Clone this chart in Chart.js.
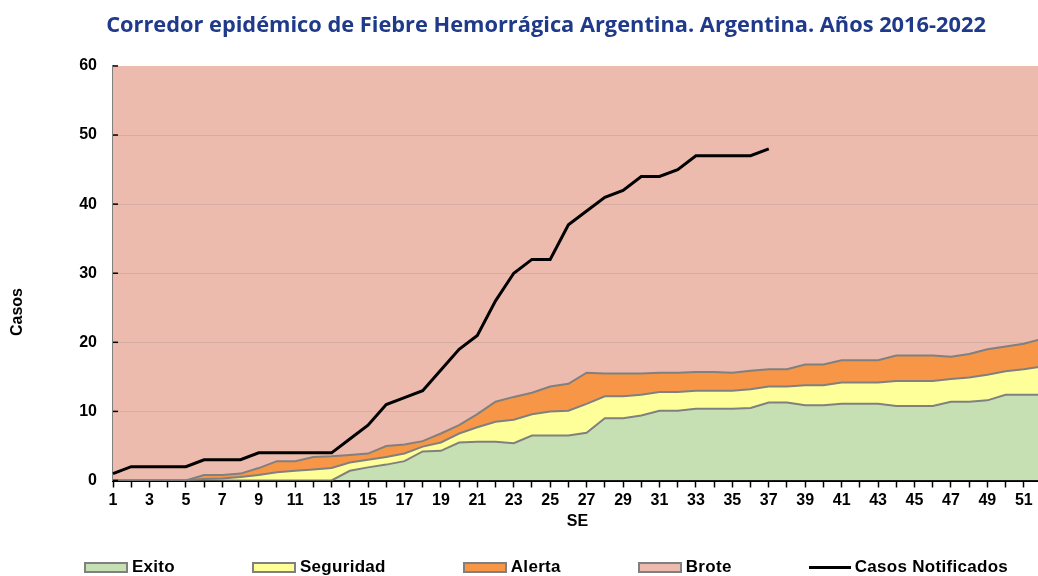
<!DOCTYPE html>
<html>
<head>
<meta charset="utf-8">
<script src="https://cdn.jsdelivr.net/npm/chart.js@4"></script>
<style>
    body { margin: 0; overflow: hidden; background: #fff; }
    #wrap { position: relative; width: 1092px; height: 576px; }
    #legend {
        position: absolute; left: 0; top: 558px; width: 1092px;
        display: flex; justify-content: center; gap: 77px;
        font: bold 17px "Liberation Sans", Arial, sans-serif; letter-spacing: 0.3px;
        line-height: 18px; color: #000;
    }
    #legend .item { display: flex; align-items: center; white-space: nowrap; }
    #legend .swatch { width: 40px; height: 7px; border: 2px solid #808080; margin-right: 4px; }
    #legend .swatch.line { width: 42px; height: 3px; border: 0; background: #000; margin-right: 4px; }
</style>
</head>
<body>
<div id="wrap">
    <canvas id="chart" width="1092" height="576"></canvas>
    <div id="legend"></div>
</div>
<script>
const weeks = ['1','2','3','4','5','6','7','8','9','10','11','12','13','14','15','16','17','18','19','20',
    '21','22','23','24','25','26','27','28','29','30','31','32','33','34','35','36','37','38','39','40',
    '41','42','43','44','45','46','47','48','49','50','51','52'];

// limites del corredor (valores acumulados por SE)
const exito = [0,0,0,0,0,0,0,0,0,0,0,0,0,1.4,1.9,2.3,2.8,4.2,4.3,5.5,
    5.6,5.6,5.4,6.5,6.5,6.5,6.9,9.0,9.0,9.4,10.1,10.1,10.4,10.4,10.4,10.5,11.3,11.3,10.9,10.9,
    11.1,11.1,11.1,10.8,10.8,10.8,11.4,11.4,11.6,12.4,12.4,12.4];
const seguridad = [0,0,0,0,0,0.2,0.3,0.5,0.8,1.2,1.4,1.6,1.8,2.6,3.0,3.4,3.9,4.9,5.5,6.8,
    7.7,8.5,8.8,9.6,10.0,10.1,11.1,12.2,12.2,12.4,12.8,12.8,13.0,13.0,13.0,13.2,13.6,13.6,13.8,13.8,
    14.2,14.2,14.2,14.4,14.4,14.4,14.7,14.9,15.3,15.8,16.1,16.5];
const alerta = [0,0,0,0,0,0.8,0.8,1.0,1.8,2.8,2.8,3.4,3.5,3.7,3.9,5.0,5.2,5.7,6.8,8.0,
    9.6,11.4,12.1,12.7,13.6,14.0,15.6,15.5,15.5,15.5,15.6,15.6,15.7,15.7,15.6,15.9,16.1,16.1,16.8,16.8,
    17.4,17.4,17.4,18.1,18.1,18.1,17.9,18.3,19.0,19.4,19.8,20.5];
const casos = [1,2,2,2,2,3,3,3,4,4,4,4,4,6,8,11,12,13,16,19,
    21,26,30,32,32,37,39,41,42,44,44,45,47,47,47,47,48];

const yTicks = [0, 10, 20, 30, 40, 50, 60];

Chart.defaults.font.family = '"Liberation Sans", Arial, sans-serif';
Chart.defaults.color = '#000';

const gridColor = 'rgba(170,150,145,0.35)';

// gridlines only over the Brote fill, y tick marks pointing inward, and the y title
const extras = {
    id: 'extras',
    afterDatasetDraw(chart, args) {
        if (args.index !== 3) return;
        const { ctx, chartArea: a, scales: { y } } = chart;
        ctx.save();
        ctx.strokeStyle = gridColor;
        ctx.lineWidth = 1;
        yTicks.slice(1, -1).forEach(v => {
            const py = Math.round(y.getPixelForValue(v)) + 0.5;
            ctx.beginPath();
            ctx.moveTo(a.left, py);
            ctx.lineTo(a.right, py);
            ctx.stroke();
        });
        ctx.restore();
    },
    afterDraw(chart) {
        const { ctx, scales: { y } } = chart;
        ctx.save();
        ctx.strokeStyle = '#000';
        ctx.lineWidth = 1.5;
        yTicks.forEach(v => {
            const py = y.getPixelForValue(v);
            ctx.beginPath();
            ctx.moveTo(y.right, py);
            ctx.lineTo(y.right + 5, py);
            ctx.stroke();
        });
        ctx.translate(18, 312);
        ctx.rotate(-Math.PI / 2);
        ctx.font = 'bold 16px "Liberation Sans", Arial, sans-serif';
        ctx.fillStyle = '#000';
        ctx.textAlign = 'center';
        ctx.textBaseline = 'middle';
        ctx.fillText('Casos', 0, 0);
        ctx.restore();
    }
};

const chart = new Chart(document.getElementById('chart'), {
    type: 'line',
    data: {
        labels: weeks,
        datasets: [
            { label: 'Exito', data: exito, fill: 'origin', backgroundColor: '#C6E0B4',
              borderColor: '#808080', borderWidth: 2, pointRadius: 0, order: 1 },
            { label: 'Seguridad', data: seguridad, fill: '-1', backgroundColor: '#FFFF99',
              borderColor: '#808080', borderWidth: 2, pointRadius: 0, order: 1 },
            { label: 'Alerta', data: alerta, fill: '-1', backgroundColor: '#F79646',
              borderColor: '#808080', borderWidth: 2, pointRadius: 0, order: 1 },
            { label: 'Brote', data: alerta, fill: 'end', backgroundColor: '#ECBBAD',
              borderWidth: 0, pointRadius: 0, order: 3 },
            { label: 'Casos Notificados', data: casos, fill: false, borderColor: '#000',
              backgroundColor: '#000', borderWidth: 3, pointRadius: 0, order: 0 }
        ]
    },
    options: {
        responsive: false,
        animation: false,
        layout: { padding: { left: 0, right: 0, top: 0, bottom: 35.5 } },
        plugins: {
            legend: { display: false },
            tooltip: { enabled: false },
            title: {
                display: true,
                text: 'Corredor epidémico de Fiebre Hemorrágica Argentina. Argentina. Años 2016-2022',
                color: '#1F3A8A',
                font: { family: '"Open Sans", sans-serif', size: 21.8, weight: 'bold' },
                padding: { top: 12.5, bottom: 27.3 }
            }
        },
        scales: {
            x: {
                offset: false,
                grid: { drawOnChartArea: false, tickLength: 7, tickColor: '#000', tickWidth: 1.5 },
                border: { color: '#000', width: 2 },
                ticks: {
                    autoSkip: false, maxRotation: 0, padding: 3,
                    font: { size: 16, weight: 'bold' },
                    callback(v, i) { return i % 2 === 0 ? this.getLabelForValue(v) : ''; }
                },
                title: { display: true, text: 'SE', font: { size: 16, weight: 'bold' },
                         padding: { top: 0, bottom: 9 } },
                afterFit(s) { s.height = 60; }
            },
            y: {
                min: 0, max: 60,
                ticks: { stepSize: 10, padding: 16, font: { size: 16, weight: 'bold' } },
                grid: { drawOnChartArea: false, drawTicks: false },
                border: { color: '#7F7F7F', width: 2 },
                afterFit(s) { s.width = 113; }
            },
            y2: {
                position: 'right',
                ticks: { display: false },
                grid: { display: false },
                border: { display: false },
                afterFit(s) { s.width = 50; }
            }
        }
    },
    plugins: [extras]
});

// legend in html so the wide spacing between entries can be kept
const legend = document.getElementById('legend');
chart.data.datasets.forEach(ds => {
    const item = document.createElement('span');
    item.className = 'item';
    const sw = document.createElement('span');
    sw.className = ds.fill === false ? 'swatch line' : 'swatch';
    if (ds.fill !== false) sw.style.background = ds.backgroundColor;
    item.appendChild(sw);
    item.appendChild(document.createTextNode(ds.label));
    legend.appendChild(item);
});
</script>
</body>
</html>
